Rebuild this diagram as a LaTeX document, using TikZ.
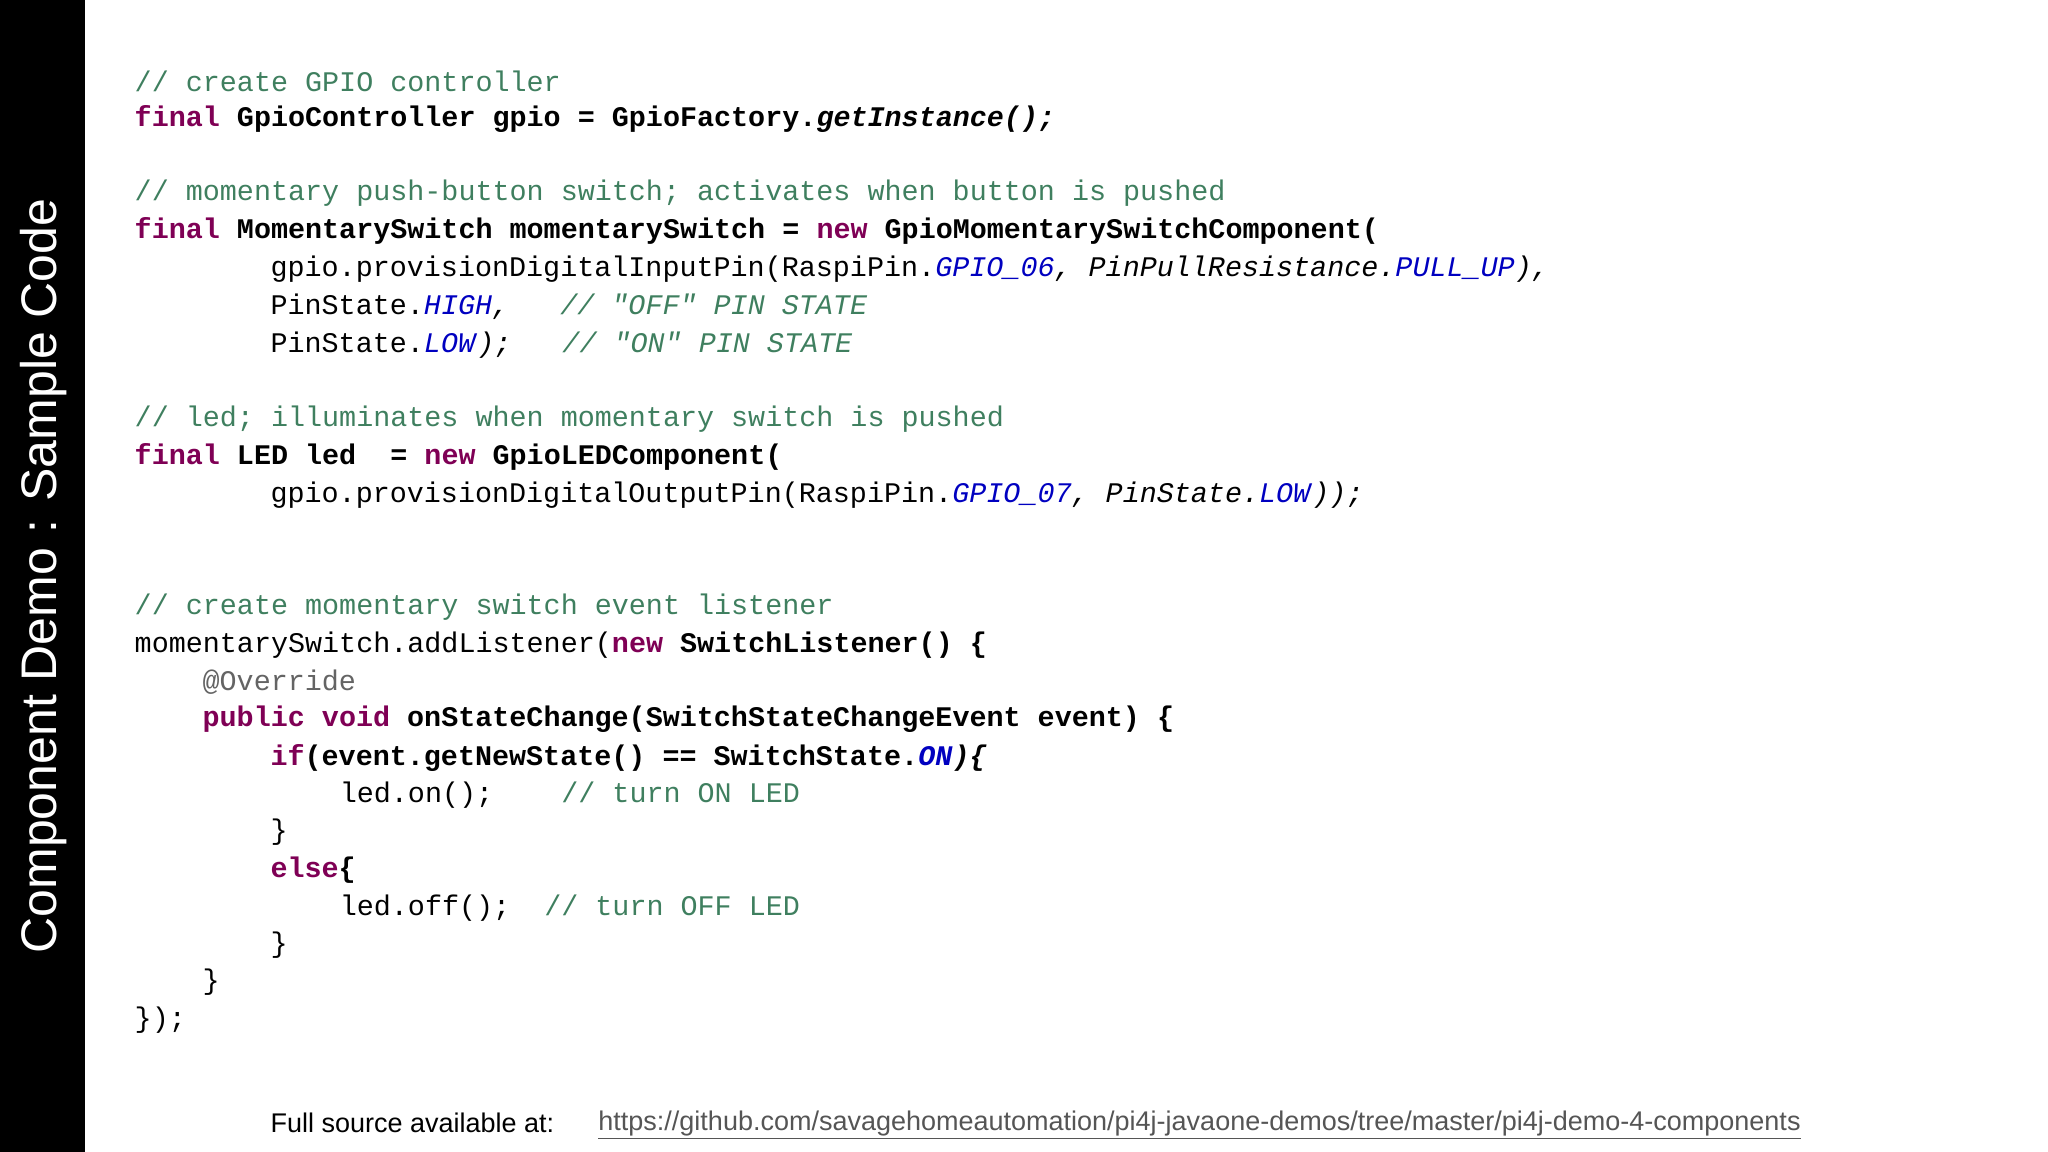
\documentclass[tikz,border=0pt]{standalone}
\usepackage{fontspec}
\setmainfont{Liberation Sans}
\newfontfamily\code{Liberation Mono}
\definecolor{kw}{HTML}{7F0055}
\definecolor{cm}{HTML}{3F7F5F}
\definecolor{cs}{HTML}{0000C0}
\definecolor{ann}{HTML}{646464}
\definecolor{url}{HTML}{555555}
\newcommand{\kw}[1]{\textcolor{kw}{\textbf{#1}}}
\newcommand{\cm}[1]{\textcolor{cm}{#1}}
\newcommand{\cs}[1]{\textcolor{cs}{\textit{#1}}}
\begin{document}
\begin{tikzpicture}[x=1.306pt,y=-1.306pt,
  ln/.style={anchor=west,inner sep=0pt,font=\code\fontsize{28.4}{30}\selectfont}]
\useasboundingbox (0,0) rectangle (1568,882);
\fill[black] (0,0) rectangle (65,882);
\node[rotate=90,text=white,font=\fontsize{50}{56}\selectfont] (title) at (33,441) {Component Demo : Sample Code};
\node[ln] (l1) at (103,62) {\cm{// create GPIO controller}};
\node[ln] (l2) at (103,91) {\kw{final} \textbf{GpioController gpio = GpioFactory.\textit{getInstance();}}};
\node[ln] (l3) at (103,148) {\cm{// momentary push-button switch; activates when button is pushed}};
\node[ln] (l4) at (103,177) {\kw{final} \textbf{MomentarySwitch momentarySwitch =} \kw{new} \textbf{GpioMomentarySwitchComponent(}};
\node[ln] (l5) at (207,206) {gpio.provisionDigitalInputPin(RaspiPin.\cs{GPIO\_06}\textit{, PinPullResistance.}\cs{PULL\_UP}\textit{),}};
\node[ln] (l6) at (207,235) {PinState.\cs{HIGH}\textit{,}~~~\cm{\textit{// "OFF" PIN STATE}}};
\node[ln] (l7) at (207,264) {PinState.\cs{LOW}\textit{);}~~~\cm{\textit{// "ON" PIN STATE}}};
\node[ln] (l8) at (103,321) {\cm{// led; illuminates when momentary switch is pushed}};
\node[ln] (l9) at (103,350) {\kw{final} \textbf{LED led~~=} \kw{new} \textbf{GpioLEDComponent(}};
\node[ln] (l10) at (207,379) {gpio.provisionDigitalOutputPin(RaspiPin.\cs{GPIO\_07}\textit{, PinState.}\cs{LOW}\textit{));}};
\node[ln] (l11) at (103,465) {\cm{// create momentary switch event listener}};
\node[ln] (l12) at (103,494) {momentarySwitch.addListener(\kw{new} \textbf{SwitchListener() \{}};
\node[ln] (l13) at (155,522) {\textcolor{ann}{@Override}};
\node[ln] (l14) at (155,551) {\kw{public} \kw{void} \textbf{onStateChange(SwitchStateChangeEvent event) \{}};
\node[ln] (l15) at (207,580) {\kw{if}\textbf{(event.getNewState() == SwitchState.\cs{ON}\textit{)\{}}};
\node[ln] (l16) at (260,609) {led.on();~~~~\cm{// turn ON LED}};
\node[ln] (l17) at (207,637) {\}};
\node[ln] (l18) at (207,666) {\kw{else}\textbf{\{}};
\node[ln] (l19) at (260,695) {led.off();~~\cm{// turn OFF LED}};
\node[ln] (l20) at (207,724) {\}};
\node[ln] (l21) at (155,752) {\}};
\node[ln] (l22) at (103,781) {\});};
\node[anchor=west,inner sep=0pt,font=\fontsize{27}{30}\selectfont] (src) at (207,860) {Full source available at:};
\node[anchor=west,inner sep=0pt,text=url,font=\fontsize{27}{30}\selectfont] (link) at (458,860) {https://github.com/savagehomeautomation/pi4j-javaone-demos/tree/master/pi4j-demo-4-components};
\draw[url,line width=1.3pt] ([yshift=-2.5pt]link.south west) -- ([yshift=-2.5pt]link.south east);
\end{tikzpicture}
\end{document}
